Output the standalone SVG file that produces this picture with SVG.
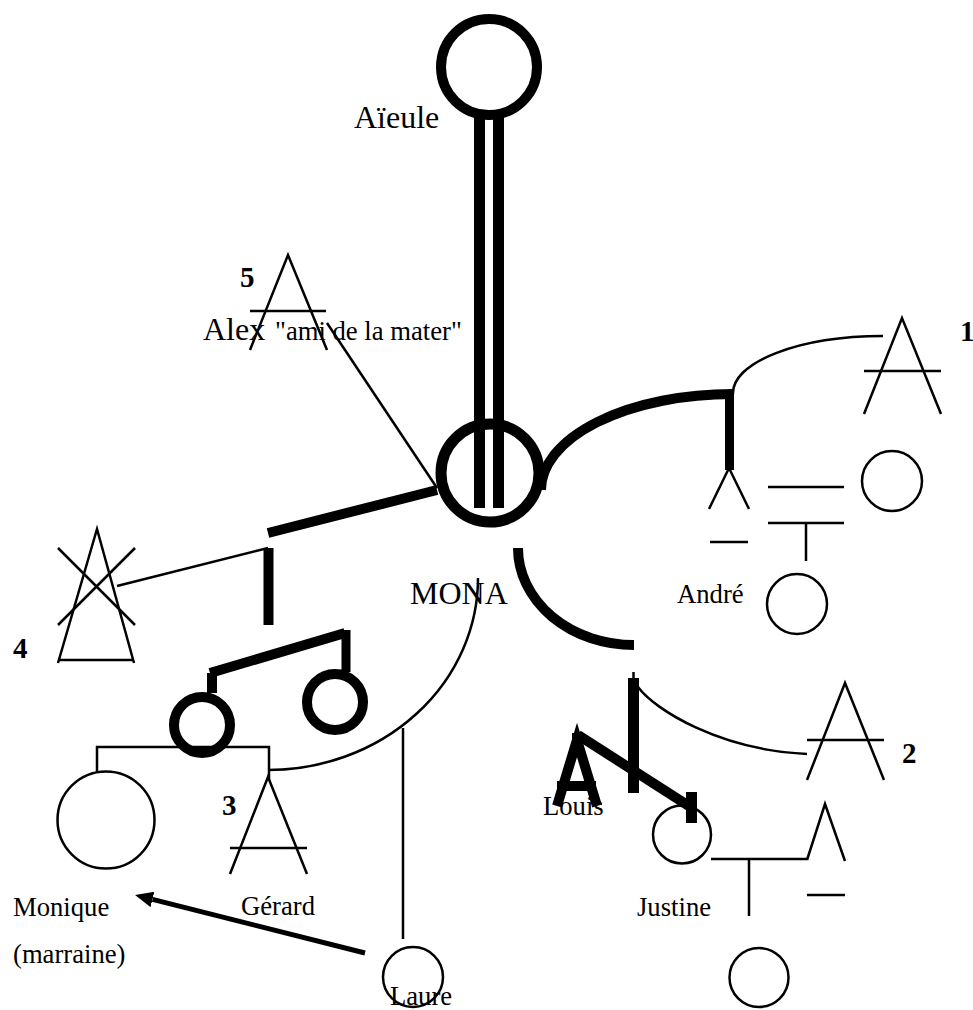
<svg xmlns="http://www.w3.org/2000/svg" width="973" height="1010" viewBox="0 0 973 1010">
<style>
.t{font-family:"Liberation Serif","Times New Roman",serif;fill:#000}
.big{font-size:32px}
.mid{font-size:26.67px}
.num{font-size:29px;font-weight:bold}
.thin{fill:none;stroke:#000;stroke-width:2.5}
.thick{fill:none;stroke:#000;stroke-width:10}
.bar{fill:#000}
</style>
<defs>
<marker id="arr" markerUnits="userSpaceOnUse" markerWidth="20" markerHeight="18" refX="0" refY="8" orient="auto">
<path d="M0,0 L18,8 L0,16 Z" fill="#000"/>
</marker>
</defs>
<rect width="973" height="1010" fill="#fff"/>

<g id="labels">
<text class="t big" x="354" y="128">Aïeule</text>
<text class="t" x="203" y="340"><tspan class="big">Alex</tspan><tspan class="mid" x="275">"ami de la mater"</tspan></text>
<text class="t big" x="410" y="604">MONA</text>
<text class="t mid" x="677" y="603">André</text>
<text class="t mid" x="543" y="815">Louis</text>
<text class="t mid" x="637" y="916">Justine</text>
<text class="t mid" x="13" y="916">Monique</text>
<text class="t mid" x="13" y="963">(marraine)</text>
<text class="t mid" x="241" y="915">Gérard</text>
<text class="t mid" x="390" y="1005">Laure</text>
<text class="t num" x="240" y="287">5</text>
<text class="t num" x="960" y="341">1</text>
<text class="t num" x="13" y="658">4</text>
<text class="t num" x="222" y="815">3</text>
<text class="t num" x="902" y="763">2</text>
</g>

<g id="connectors">
<rect class="bar" x="474" y="113" width="11" height="395"/>
<rect class="bar" x="493" y="113" width="11" height="395"/>
<line class="thin" x1="327" y1="323" x2="437" y2="488"/>
<line class="thick" x1="268" y1="533" x2="437" y2="490"/>
<rect class="bar" x="263.5" y="548" width="10" height="77"/>
<line class="thin" x1="117" y1="586" x2="268" y2="548"/>
<line class="thick" x1="210" y1="673" x2="345" y2="633"/>
<rect class="bar" x="341.5" y="630" width="9" height="42"/>
<rect class="bar" x="207" y="673" width="10" height="20"/>
<polyline class="thin" points="97,773 97,747 269,747 269,780"/>
<path class="thin" d="M268 770 A210 192 0 0 0 478 578"/>
<line class="thin" x1="403" y1="728" x2="403" y2="939"/>
<line x1="365" y1="953" x2="152.5" y2="899.4" stroke="#000" stroke-width="5" marker-end="url(#arr)"/>
<path class="thick" d="M541 490 A192 96 0 0 1 733 394"/>
<rect class="bar" x="725" y="390" width="9" height="80"/>
<path class="thin" d="M733 394 A150 57 0 0 1 883 336"/>
<path class="thick" d="M518 548 A116 97 0 0 0 634 645"/>
<line class="thin" x1="633.5" y1="672" x2="633.5" y2="680"/>
<rect class="bar" x="628" y="678" width="11" height="115"/>
<path class="thin" d="M638 687 C655 710 720 750 807 754"/>
<line class="thick" x1="578" y1="735" x2="692" y2="808"/>
<rect class="bar" x="686" y="792" width="11" height="31"/>
<line class="thin" x1="711" y1="859" x2="807" y2="859"/>
<line class="thin" x1="749" y1="859" x2="749" y2="916"/>
<line class="thin" x1="768" y1="487" x2="844" y2="487"/>
<line class="thin" x1="768" y1="523" x2="844" y2="523"/>
<line class="thin" x1="806" y1="523" x2="806" y2="561"/>
</g>

<g id="aieule"><circle cx="489" cy="67" r="48" fill="none" stroke="#000" stroke-width="10"/></g>
<g id="mona"><circle cx="490" cy="473" r="49" fill="none" stroke="#000" stroke-width="11"/></g>
<g id="alex">
<polyline class="thin" points="250,350 288,255 327,350"/>
<line class="thin" x1="250" y1="311" x2="326" y2="311"/>
</g>
<g id="homme4">
<polyline class="thin" points="58,663 97,529 134,663"/>
<line class="thin" x1="58" y1="660" x2="134" y2="660"/>
<line class="thin" x1="58" y1="548" x2="135" y2="625"/>
<line class="thin" x1="135" y1="548" x2="58" y2="625"/>
</g>
<g id="fille1"><circle cx="202" cy="725" r="28" fill="none" stroke="#000" stroke-width="10"/></g>
<g id="fille2"><circle cx="335" cy="702" r="28" fill="none" stroke="#000" stroke-width="10"/></g>
<g id="monique"><circle class="thin" cx="106" cy="820" r="48.5"/></g>
<g id="gerard">
<polyline class="thin" points="230,874 268,777 307,874"/>
<line class="thin" x1="230" y1="848" x2="307" y2="848"/>
</g>
<g id="laure"><circle class="thin" cx="413" cy="977" r="30"/></g>
<g id="homme1">
<polyline class="thin" points="864,414 902,318 941,414"/>
<line class="thin" x1="864" y1="371" x2="941" y2="371"/>
</g>
<g id="andre">
<polyline class="thin" points="709,509 729,468 749,509"/>
<line class="thin" x1="710" y1="542" x2="748" y2="542"/>
</g>
<g id="andre-f"><circle class="thin" cx="892" cy="481" r="30"/></g>
<g id="andre-e"><circle class="thin" cx="797" cy="604" r="30"/></g>
<g id="homme2">
<polyline class="thin" points="807,780 845,683 884,780"/>
<line class="thin" x1="807" y1="740" x2="884" y2="740"/>
</g>
<g id="louis">
<polyline points="557,806 577,740 597,806" fill="none" stroke="#000" stroke-width="10"/>
<rect x="572" y="733" width="9" height="18" fill="#000"/>
<line class="thick" x1="557" y1="786" x2="596" y2="786"/>
</g>
<g id="justine"><circle class="thin" cx="682" cy="834.5" r="29"/></g>
<g id="justine-h">
<polyline class="thin" points="807,860 825,804 845,861"/>
<line class="thin" x1="807" y1="895" x2="845" y2="895"/>
</g>
<g id="justine-e"><circle class="thin" cx="759" cy="977.5" r="29.5"/></g>
</svg>
